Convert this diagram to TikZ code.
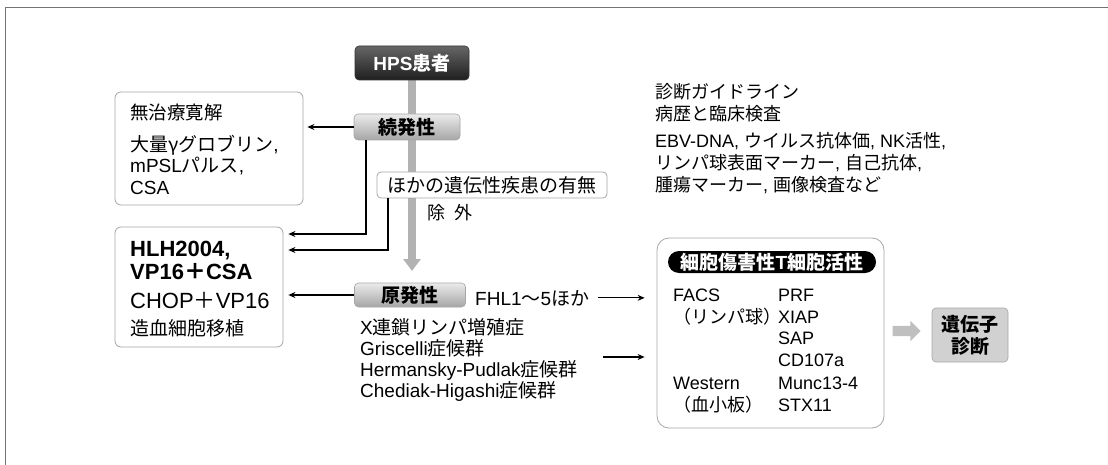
\documentclass[tikz,border=0pt]{standalone}
\usepackage{fontspec}
\setmainfont{Liberation Sans}
\newfontfamily\jp{Noto Sans CJK JP}
\usetikzlibrary{arrows.meta,calc,shapes.arrows,backgrounds}
\newcommand\myfs[2]{\fontsize{#1}{#2}\selectfont}
\begin{document}
\begin{tikzpicture}[x=1pt,y=-1pt,
  txt/.style={inner sep=0pt, anchor=base west, text=black},
  lbox/.style={draw=black!35, line width=0.8pt, rounded corners=6pt, fill=white, inner sep=0pt},
  gbox/.style={draw=black!35, line width=0.6pt, rounded corners=4pt, top color=black!8, bottom color=black!35, inner sep=0pt},
  arr/.style={-{Stealth[length=7pt,width=6pt]}, line width=1.1pt, black},
]
\useasboundingbox (0,0) rectangle (1108,465);
% partial frame
\draw[black!55, line width=1pt] (5,465) -- (5,8) -- (1108,8);

% main column
\node[draw=black!80, line width=0.6pt, rounded corners=4pt, top color=black!60, bottom color=black!88,
      minimum width=114pt, minimum height=34pt, inner sep=0pt, text=white]
  (hps) at (412,63) {\myfs{19}{22}\bfseries HPS{\jp 患者}};
\node[gbox, minimum width=106pt, minimum height=26pt] (zoku) at (407,127) {\myfs{19}{22}\jp\bfseries 続発性};
\node[lbox, rounded corners=4pt, minimum width=230pt, minimum height=26pt] (hoka) at (492,185) {\myfs{19}{22}\jp ほかの遺伝性疾患の有無};
\node[txt] (jogai) at (427,219.5) {\myfs{18}{22}\jp 除\hspace{9pt}外};
\node[gbox, minimum width=111pt, minimum height=24pt] (gen) at (410,295) {\myfs{19}{22}\jp\bfseries 原発性};
\coordinate (gtip) at (412,271);
\begin{pgfonlayer}{background}
\draw[black!30, line width=8pt, -{Triangle[length=12pt,width=17pt]}] (hps.south) -- (gtip);
\end{pgfonlayer}

% left boxes
\node[lbox, minimum width=188pt, minimum height=113pt] (mu) at (209,148.5) {};
\node[txt] (mu1) at (130,120) {\myfs{18.5}{22}\jp 無治療寛解};
\node[txt] (mu2) at (130,152) {\myfs{19}{22}{\jp 大量γグロブリン},};
\node[txt] (mu3) at (130,173) {\myfs{19}{22}mPSL{\jp パルス},};
\node[txt] (mu4) at (130,195) {\myfs{19}{22}CSA};

\node[lbox, minimum width=168pt, minimum height=120pt] (hlh) at (199,287) {};
\node[txt] (hl1) at (130,256) {\myfs{22}{24}\bfseries HLH2004,};
\node[txt] (hl2) at (130,279) {\myfs{22}{24}\bfseries VP16{\jp ＋}CSA};
\node[txt] (hl3) at (130,308) {\myfs{22}{24}CHOP{\jp ＋}VP16};
\node[txt] (hl4) at (130,335) {\myfs{19}{22}\jp 造血細胞移植};

% connectors to left boxes
\draw[arr, shorten >=4pt] (zoku.west) -- (zoku.west -| mu.east);
\coordinate (e1) at (366,234);
\draw[arr, shorten >=5pt] (zoku.south -| e1) -- (e1) -- (e1 -| hlh.east);
\coordinate (e2) at (388,250);
\draw[arr, shorten >=5pt] (hoka.south -| e2) -- (e2) -- (e2 -| hlh.east);
\draw[arr, shorten >=5pt] (gen.west) -- (gen.west -| hlh.east);

% right text block
\node[txt] (r1) at (655,99) {\myfs{18}{22}\jp 診断ガイドライン};
\node[txt] (r2) at (655,121) {\myfs{18}{22}\jp 病歴と臨床検査};
\node[txt] (r3) at (655,148) {\myfs{18}{22}EBV-DNA, {\jp ウイルス抗体価}, NK{\jp 活性},};
\node[txt] (r4) at (655,170) {\myfs{18}{22}{\jp リンパ球表面マーカー}, {\jp 自己抗体},};
\node[txt] (r5) at (655,192) {\myfs{18}{22}{\jp 腫瘍マーカー}, {\jp 画像検査など}};

% primary list
\node[txt] (fhl) at (475,305) {\myfs{19}{22}FHL1{\jp ～}5{\jp ほか}};
\node[txt] (p1) at (360,334) {\myfs{19}{22}X{\jp 連鎖リンパ増殖症}};
\node[txt] (p2) at (360,355) {\myfs{19}{22}Griscelli{\jp 症候群}};
\node[txt] (p3) at (360,376) {\myfs{19}{22}Hermansky-Pudlak{\jp 症候群}};
\node[txt] (p4) at (360,397) {\myfs{19}{22}Chediak-Higashi{\jp 症候群}};

% cytotoxic box
\node[lbox, rounded corners=12pt, minimum width=227pt, minimum height=190pt] (ctl) at (770.5,333) {};
\node[fill=black, rounded corners=11pt, minimum width=208pt, minimum height=22pt, inner sep=0pt, text=white]
  (pill) at (772,262) {\myfs{19}{22}\bfseries{\jp 細胞傷害性}T{\jp 細胞活性}};
\node[txt] (c1) at (673,301.7) {\myfs{18}{22}FACS};
\node[txt] (c2) at (673,323.7) {\myfs{18}{22}\jp （リンパ球）};
\node[txt] (c3) at (673,389.7) {\myfs{18}{22}Western};
\node[txt] (c4) at (673,411.7) {\myfs{18}{22}\jp （血小板）};
\node[txt] (d1) at (778,301.7) {\myfs{18}{22}PRF};
\node[txt] (d2) at (778,323.7) {\myfs{18}{22}XIAP};
\node[txt] (d3) at (778,344.7) {\myfs{18}{22}SAP};
\node[txt] (d4) at (778,366.7) {\myfs{18}{22}CD107a};
\node[txt] (d5) at (778,389.7) {\myfs{18}{22}Munc13-4};
\node[txt] (d6) at (778,411.7) {\myfs{18}{22}STX11};

\draw[arr, shorten >=12pt] ([xshift=9pt]fhl.east) -- (fhl.east -| ctl.west);
\coordinate (a2s) at (603,357);
\draw[arr, shorten >=12pt] (a2s) -- (a2s -| ctl.west);

% gene diagnosis
\node[draw=black!35, line width=0.6pt, rounded corners=4pt, fill=black!18, minimum width=76pt, minimum height=54pt,
      inner sep=0pt, align=center, font=\jp\bfseries\myfs{19}{22}] (gene) at (970,335) {遺伝子\\診断};
\node[single arrow, fill=black!25, draw=none, inner sep=5pt, minimum height=28pt,
      single arrow head extend=5pt] (garr) at (904,331) {};
\end{tikzpicture}
\end{document}
